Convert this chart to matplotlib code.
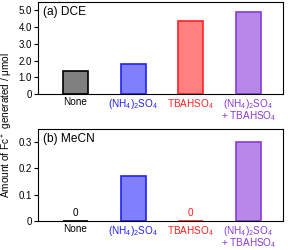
import numpy as np
import matplotlib
matplotlib.use("Agg")
import matplotlib.pyplot as plt

plt.rcParams['font.family'] = ['Liberation Sans', 'DejaVu Sans']
plt.rcParams['mathtext.fontset'] = 'custom'
plt.rcParams['mathtext.rm'] = 'Liberation Sans'

labels = ["None", "(NH$_4$)$_2$SO$_4$", "TBAHSO$_4$", "(NH$_4$)$_2$SO$_4$\n+ TBAHSO$_4$"]
dce = [1.37, 1.77, 4.37, 4.93]
mecn = [0.0, 0.172, 0.0, 0.30]

face = ["#808080", "#8080ff", "#ff8080", "#b888e8"]
edge = ["#000000", "#2020ff", "#ff2020", "#8a3ad8"]
txt = ["#000000", "#2020ff", "#ff2020", "#8a3ad8"]

fig = plt.figure(figsize=(2.88, 2.5), dpi=100)
ax1 = fig.add_axes([38/288, 1-94/250, 245/288, 92/250])
ax2 = fig.add_axes([38/288, 1-221/250, 245/288, 92/250])

x = np.arange(len(labels))
for ax, vals, ylim, ticks, tlabels, name in [
        (ax1, dce, 5.5, [0, 1, 2, 3, 4, 5], ["0", "1.0", "2.0", "3.0", "4.0", "5.0"], "(a) DCE"),
        (ax2, mecn, 0.35, [0, 0.1, 0.2, 0.3], ["0", "0.1", "0.2", "0.3"], "(b) MeCN")]:
    ax.bar(x, vals, width=0.43, color=face, edgecolor=edge, linewidth=1.2)
    ax.set_xlim(-0.65, 3.6)
    ax.set_ylim(0, ylim)
    ax.set_yticks(ticks)
    ax.set_yticklabels(tlabels)
    ax.set_xticks(x)
    ax.set_xticklabels(labels, fontsize=7.2, linespacing=0.85)
    for lab, c in zip(ax.get_xticklabels(), txt):
        lab.set_color(c)
    ax.tick_params(axis='x', length=0, pad=2)
    ax.tick_params(axis='y', labelsize=7, length=3, width=0.8, pad=1.5)
    for s in ax.spines.values():
        s.set_linewidth(0.8)
    ax.text(0.02, 0.96, name, transform=ax.transAxes, fontsize=8.6, va='top')

for i, v in enumerate(mecn):
    if v == 0:
        ax2.text(x[i], 0.012, "0", ha='center', va='bottom', fontsize=7.2, color=txt[i])

fig.text(0.025, 0.5, "Amount of Fc$^+$ generated / μmol", rotation=90,
         ha='center', va='center', fontsize=7.2)

fig.savefig("out.png", dpi=100)
